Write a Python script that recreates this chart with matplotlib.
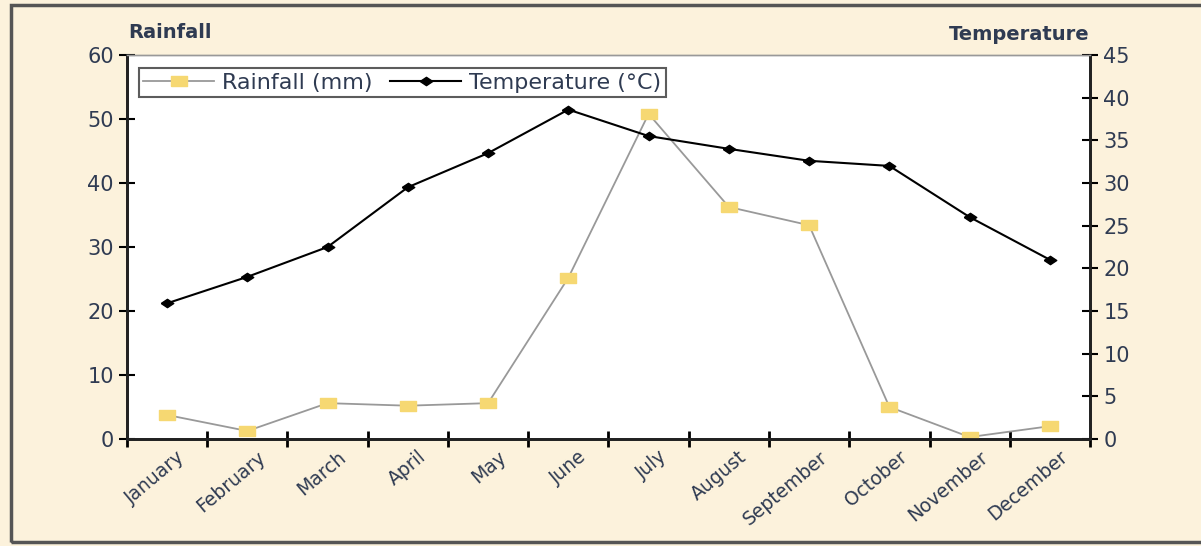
import matplotlib
matplotlib.use("Agg")
import matplotlib.pyplot as plt
from matplotlib.patches import Rectangle

plt.rcParams['font.family'] = ['DejaVu Sans']

months = ['January', 'February', 'March', 'April', 'May', 'June', 'July',
          'August', 'September', 'October', 'November', 'December']
rainfall = [3.75, 1.25, 5.6, 5.2, 5.6, 25.2, 50.8, 36.25, 33.4, 5.0, 0.3, 2.0]
temperature = [15.9, 19.0, 22.5, 29.5, 33.5, 38.6, 35.5, 34.0, 32.6, 32.0, 26.0, 21.0]

text_col = '#2f3b52'
cream = '#fcf2dc'

# wide markers
rect_marker = [(-1.5, -1), (1.5, -1), (1.5, 1), (-1.5, 1), (-1.5, -1)]
diamond_marker = [(-1.5, 0), (0, 1), (1.5, 0), (0, -1), (-1.5, 0)]

fig = plt.figure(figsize=(12.01, 5.46), dpi=100, facecolor=cream)
fig.patches.append(Rectangle((0.009, 0.008), 1.2, 0.982, transform=fig.transFigure,
                             fill=False, edgecolor='#555555', linewidth=2.5))

ax = fig.add_axes([0.1057, 0.196, 0.8019, 0.7033])
ax.set_facecolor('white')
ax2 = ax.twinx()

x = list(range(len(months)))
l1, = ax.plot(x, rainfall, color='#999999', linewidth=1.3, marker=rect_marker,
              markersize=11, markerfacecolor='#f6d872', markeredgecolor='#f6d872',
              label='Rainfall (mm)', zorder=3)
l2, = ax2.plot(x, temperature, color='black', linewidth=1.5, marker=diamond_marker,
               markersize=9, markerfacecolor='black', label='Temperature (°C)')

ax.set_xlim(-0.5, 11.5)
ax.set_ylim(0, 60)
ax2.set_ylim(0, 45)
ax.set_yticks(range(0, 61, 10))
ax2.set_yticks(range(0, 46, 5))

# month ticks sit between categories; labels hang a little right of centre
ax.set_xticks([i - 0.5 for i in range(13)])
ax.set_xticklabels([])
ax.set_xticks([i + 0.12 for i in x], minor=True)
ax.set_xticklabels(months, minor=True, rotation=40, ha='right', va='top',
                   rotation_mode='anchor', fontsize=13.5, color=text_col)
ax.tick_params(axis='x', which='minor', length=0, pad=6)
ax.tick_params(axis='x', which='major', direction='inout', length=11, width=2)
ax.tick_params(axis='y', direction='inout', length=12, width=1.5,
               labelsize=15, labelcolor=text_col)
ax2.tick_params(axis='y', direction='inout', length=12, width=1.5,
                labelsize=15, labelcolor=text_col)

for a in (ax, ax2):
    for side in ('left', 'right', 'bottom'):
        a.spines[side].set_linewidth(2)
        a.spines[side].set_color('#222222')
    a.spines['top'].set_color('#999999')
    a.spines['top'].set_linewidth(1)

fig.text(0.107, 0.93, 'Rainfall', fontsize=14, fontweight='bold', color=text_col)
fig.text(0.907, 0.926, 'Temperature', fontsize=14, fontweight='bold',
         color=text_col, ha='right')

leg = ax.legend([l1, l2], ['Rainfall (mm)', 'Temperature (°C)'], ncol=2,
                loc='upper left', bbox_to_anchor=(0.012, 0.965), fontsize=16,
                frameon=True, fancybox=False, edgecolor='#333333',
                handlelength=3.2, handletextpad=0.35, columnspacing=0.8,
                borderpad=0.2, borderaxespad=0)
leg.get_frame().set_linewidth(1.5)
for t in leg.get_texts():
    t.set_color(text_col)

fig.savefig('out.png', dpi=100, facecolor=cream)
